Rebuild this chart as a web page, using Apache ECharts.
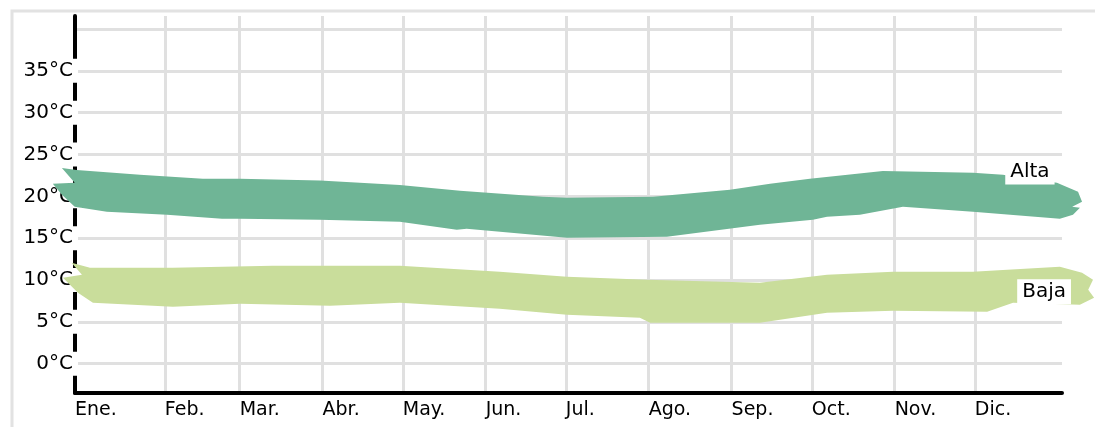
<!DOCTYPE html>
<html>
<head>
<meta charset="utf-8">
<script src="https://cdn.jsdelivr.net/npm/echarts@6/dist/echarts.min.js"></script>
<style>
html, body { margin: 0; padding: 0; background: #fff; }
#chart { width: 1095px; height: 427px; }
</style>
</head>
<body>
<div id="chart"></div>
<script>
// x = day of year, y = °C
const months = ['Ene.', 'Feb.', 'Mar.', 'Abr.', 'May.', 'Jun.', 'Jul.', 'Ago.', 'Sep.', 'Oct.', 'Nov.', 'Dic.']
const monthStarts = [-2.6, 31, 59, 90, 120, 151, 181, 212, 243, 273, 304, 334]
const tempTicks = [0, 5, 10, 15, 20, 25, 30, 35, 40]
const tempLabels = [0, 5, 10, 15, 20, 25, 30, 35]

// Alta: top edge left -> right, then ragged right end, bottom edge right -> left, ragged left end
const altaTop = [
  [-7.5, 23.4], [-2.0, 23.16], [21.7, 22.57], [45.2, 22.09], [59.1, 22.09], [89.0, 21.89],
  [118.9, 21.37], [141.4, 20.66], [172.4, 19.94], [181.4, 19.82], [213.6, 19.94], [242.4, 20.78],
  [257.4, 21.49], [272.3, 22.09], [299.6, 23.04], [333.3, 22.81], [344.5, 22.57], [364.7, 21.61],
]
const altaRightEnd = [
  [372.6, 20.54], [374.1, 19.34], [370.4, 18.75], [373.3, 18.63], [370.7, 17.79],
]
const altaBottom = [
  [365.8, 17.31], [333.3, 18.15], [307.1, 18.75], [291.0, 17.79], [278.7, 17.55], [273.4, 17.19],
  [253.6, 16.6], [218.8, 15.16], [181.4, 15.04], [143.9, 16.12], [140.2, 16.0], [118.9, 16.96],
  [89.0, 17.19], [59.1, 17.31], [52.4, 17.31], [31.8, 17.79], [9.3, 18.15], [-2.7, 18.75],
]
const altaLeftEnd = [
  [-7.5, 20.18], [-10.9, 21.49], [-2.7, 21.61],
]

// Baja
const bajaTop = [
  [-3.9, 12.06], [3.0, 11.46], [34.0, 11.46], [71.4, 11.7], [118.9, 11.7], [156.3, 10.99],
  [181.4, 10.39], [211.3, 10.03], [253.6, 9.67], [278.7, 10.63], [303.4, 10.99], [333.3, 10.99],
  [344.5, 11.2], [365.8, 11.58],
]
const bajaRightEnd = [
  [374.1, 10.87], [378.2, 10.03], [376.4, 8.84], [378.6, 7.88],
]
const bajaBottom = [
  [373.3, 7.04], [348.3, 7.28], [338.6, 6.21], [303.4, 6.33], [278.7, 6.09], [253.6, 4.9],
  [212.5, 4.9], [208.7, 5.49], [181.4, 5.85], [156.3, 6.57], [118.9, 7.28], [92.8, 6.93],
  [59.1, 7.16], [34.0, 6.81], [4.1, 7.28],
]
const bajaLeftEnd = [
  [-1.5, 8.48], [-7.1, 10.27], [0.0, 10.63],
]

const bandLabels = [
  { name: 'Alta', value: [354.6, 22.9] },
  { name: 'Baja', value: [359.9, 8.6] },
]

const font = "'DejaVu Sans', sans-serif"

const bandSeries = (name, outline, color) => ({
  name,
  type: 'custom',
  z: 3,
  silent: true,
  data: [[0, 0]],
  renderItem: (params, api) => ({
    type: 'polygon',
    shape: { points: outline.map((p) => api.coord(p)) },
    style: { fill: color },
  }),
})

const chart = echarts.init(document.getElementById('chart'))
chart.setOption({
  animation: false,
  backgroundColor: '#fff',
  grid: { left: 75, right: 33, top: 16, bottom: 34 },
  graphic: [{
    type: 'rect',
    z: -10,
    silent: true,
    shape: { x: 12, y: 11, width: 1200, height: 500 },
    style: { fill: null, stroke: '#e2e2e2', lineWidth: 3 },
  }],
  xAxis: {
    type: 'value',
    min: -2.6,
    max: 366.6,
    axisLine: { onZero: false, lineStyle: { color: '#000', width: 4 } },
    axisTick: { show: false, customValues: monthStarts },
    splitLine: { show: true, lineStyle: { color: '#e0e0e0', width: 3 } },
    axisLabel: {
      customValues: monthStarts,
      formatter: (v) => months[monthStarts.indexOf(v)],
      align: 'left',
      margin: 8,
      color: '#000',
      fontSize: 19,
      fontFamily: font,
    },
  },
  yAxis: {
    type: 'value',
    min: -3.5,
    max: 41.55,
    axisLine: { show: true, onZero: false, lineStyle: { color: '#000', width: 4 } },
    axisTick: { show: false, customValues: tempTicks },
    splitLine: { show: true, lineStyle: { color: '#e0e0e0', width: 3 } },
    axisLabel: {
      customValues: tempLabels,
      formatter: (v) => v + '°C',
      margin: -3,
      color: '#000',
      fontSize: 20,
      fontFamily: font,
      backgroundColor: '#fff',
      padding: [2, 5, 2, 0],
    },
  },
  series: [
    bandSeries('Alta', [...altaTop, ...altaRightEnd, ...altaBottom, ...altaLeftEnd], '#6fb596'),
    bandSeries('Baja', [...bajaTop, ...bajaRightEnd, ...bajaBottom, ...bajaLeftEnd], '#c9dd9b'),
    {
      type: 'scatter',
      z: 5,
      silent: true,
      symbolSize: 0,
      itemStyle: { opacity: 1 },
      data: bandLabels,
      label: {
        show: true,
        position: 'inside',
        formatter: '{b}',
        color: '#000',
        opacity: 1,
        fontSize: 20,
        fontFamily: font,
        backgroundColor: '#fff',
        padding: [3, 5, 2, 5],
      },
    },
  ],
})
</script>
</body>
</html>
